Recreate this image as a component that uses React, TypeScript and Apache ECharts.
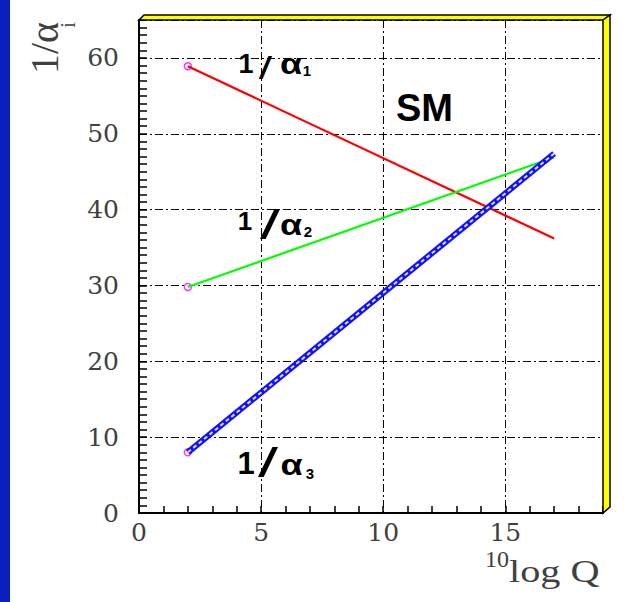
import React, { useEffect, useRef } from "react";
import * as echarts from "echarts";

// ---- data ----
const X_ENDPOINTS = [2, 17]; // 10log Q at the two ends of each running coupling
const INV_ALPHA_1 = [58.9, 36.2];
const INV_ALPHA_2 = [29.8, 46.9];
const INV_ALPHA_3 = [8.0, 47.4];
const X_RANGE = [0, 19];
const Y_RANGE = [0, 65];
const X_MAJOR = 5;
const Y_MAJOR = 10;
const MINOR_STEP = 1;
const CURVE_SUBSCRIPTS = ["1", "2", "3"];
const MODEL_LABEL = "SM";

const TICK_FONT = "DejaVu Serif";
const TITLE_FONT = "Liberation Serif";
const LABEL_FONT = "Liberation Sans";
const AXIS_TEXT = "#404040";

function pairs(ys: number[]) {
  return X_ENDPOINTS.map((x, i) => [x, ys[i]]);
}

function txt(
  text: string,
  x: number,
  y: number,
  size: number,
  opts: { weight?: string; family?: string; align?: string; color?: string; scaleX?: number; scaleY?: number; rotation?: number } = {}
) {
  const align = opts.align || "center";
  return {
    type: "text",
    x,
    y,
    rotation: opts.rotation || 0,
    scaleX: opts.scaleX || 1,
    scaleY: opts.scaleY || 1,
    z: 100,
    style: {
      text,
      fontSize: size,
      fontFamily: opts.family || LABEL_FONT,
      fontWeight: opts.weight || "normal",
      fill: opts.color || "#000",
      align,
      textAlign: align,
      verticalAlign: "middle",
      textVerticalAlign: "middle",
    },
  };
}

type LabelPos = {
  one: [number, number, number];
  slash: [number, number, number, number];
  alpha: [number, number];
  sub: [number, number];
};

function alphaLabel(sub: string, p: LabelPos) {
  return [
    txt("1", p.one[0], p.one[1], p.one[2], { weight: "bold" }),
    txt("/", p.slash[0], p.slash[1], p.slash[2], { scaleX: p.slash[3] }),
    txt("α", p.alpha[0], p.alpha[1], 30, { weight: "bold", scaleX: 1.2 }),
    txt(sub, p.sub[0], p.sub[1], 15, { weight: "bold" }),
  ];
}

export default function App() {
  const ref = useRef<HTMLDivElement>(null);

  useEffect(() => {
    document.body.style.margin = "0";
    const chart = echarts.init(ref.current!, null, { renderer: "svg" });

    const grid = { left: 139, top: 20, width: 464, height: 493 };

    const gridLine = { color: "#000", width: 1, type: [8, 3, 2, 3] as any };

    const option: any = {
      animation: false,
      backgroundColor: "#fff",
      grid: { ...grid, containLabel: false },
      xAxis: [
        {
          type: "value",
          min: X_RANGE[0],
          max: X_RANGE[1],
          interval: MINOR_STEP,
          position: "bottom",
          axisLine: { show: true, onZero: false, lineStyle: { color: "#000", width: 2 } },
          axisTick: { show: true, inside: true, length: 7, lineStyle: { color: "#000", width: 1.5 } },
          axisLabel: { show: false },
          splitLine: { show: false },
        },
        {
          type: "value",
          min: X_RANGE[0],
          max: X_RANGE[1],
          interval: X_MAJOR,
          position: "bottom",
          axisLine: { show: false, onZero: false },
          axisTick: { show: false },
          axisLabel: {
            show: true,
            margin: 7,
            fontFamily: TICK_FONT,
            fontSize: 25,
            color: AXIS_TEXT,
            showMaxLabel: false,
            formatter: (v: number) => (v % X_MAJOR === 0 ? String(v) : ""),
          },
          splitLine: { show: true, lineStyle: gridLine },
        },
      ],
      yAxis: [
        {
          type: "value",
          min: Y_RANGE[0],
          max: Y_RANGE[1],
          interval: MINOR_STEP,
          position: "left",
          axisLine: { show: true, onZero: false, lineStyle: { color: "#000", width: 2 } },
          axisTick: { show: true, inside: true, length: 8, lineStyle: { color: "#000", width: 1.5 } },
          axisLabel: { show: false },
          splitLine: { show: false },
        },
        {
          type: "value",
          min: Y_RANGE[0],
          max: Y_RANGE[1],
          interval: Y_MAJOR,
          position: "left",
          axisLine: { show: false, onZero: false },
          axisTick: { show: false },
          axisLabel: {
            show: true,
            margin: 20,
            fontFamily: TICK_FONT,
            fontSize: 25,
            color: AXIS_TEXT,
            showMaxLabel: false,
            formatter: (v: number) => (v % Y_MAJOR === 0 ? String(v) : ""),
          },
          splitLine: { show: true, lineStyle: gridLine },
        },
      ],
      series: [
        {
          name: "1/α1",
          type: "line",
          xAxisIndex: 0,
          yAxisIndex: 0,
          data: pairs(INV_ALPHA_1),
          symbol: "none",
          lineStyle: { color: "#ff0000", width: 2.2 },
        },
        {
          name: "1/α2",
          type: "line",
          xAxisIndex: 0,
          yAxisIndex: 0,
          data: pairs(INV_ALPHA_2),
          symbol: "none",
          lineStyle: { color: "#00ff00", width: 2.2 },
        },
        {
          name: "start",
          type: "scatter",
          xAxisIndex: 0,
          yAxisIndex: 0,
          data: [INV_ALPHA_1, INV_ALPHA_2, INV_ALPHA_3].map((s) => [X_ENDPOINTS[0], s[0]]),
          symbol: "circle",
          symbolSize: 7,
          itemStyle: { color: "#ffffff", borderColor: "#ff00ff", borderWidth: 1.5 },
        },
        {
          name: "1/α3",
          type: "line",
          xAxisIndex: 0,
          yAxisIndex: 0,
          data: pairs(INV_ALPHA_3),
          symbol: "none",
          lineStyle: { color: "#1010ff", width: 6 },
        },
        {
          name: "1/α3 band",
          type: "line",
          xAxisIndex: 0,
          yAxisIndex: 0,
          data: pairs(INV_ALPHA_3),
          symbol: "none",
          lineStyle: { color: "#d8dcff", width: 2, type: [4, 3] },
        },
      ],
      graphic: [
        { type: "rect", shape: { x: 0, y: 0, width: 10, height: 602 }, style: { fill: "#0a20bd" }, z: 100 },
        {
          type: "polygon",
          shape: { points: [[139, 20], [144, 15], [610, 15], [603, 20]] },
          style: { fill: "#ffff00", stroke: "#000", lineWidth: 1.5 },
          z: 100,
        },
        {
          type: "polygon",
          shape: { points: [[603, 20], [610, 15], [610, 507], [603, 513]] },
          style: { fill: "#ffff00", stroke: "#000", lineWidth: 1.5 },
          z: 100,
        },
        ...alphaLabel(CURVE_SUBSCRIPTS[0], {
          one: [246, 63.5, 27],
          slash: [265.5, 68.5, 32, 1.5],
          alpha: [291, 64],
          sub: [307, 70],
        }),
        ...alphaLabel(CURVE_SUBSCRIPTS[1], {
          one: [245, 221, 26],
          slash: [270, 225, 40, 1.8],
          alpha: [291, 225],
          sub: [308, 231],
        }),
        ...alphaLabel(CURVE_SUBSCRIPTS[2], {
          one: [246, 463, 31],
          slash: [268, 462.5, 40, 1.8],
          alpha: [291.5, 465],
          sub: [310, 473],
        }),
        txt(MODEL_LABEL, 424.5, 108, 38, { weight: "bold" }),
        // y-axis title 1/α_i
        txt("1/α", 44.5, 48, 40, { family: TITLE_FONT, color: AXIS_TEXT, rotation: Math.PI / 2 }),
        txt("i", 68, 25, 20, { family: TITLE_FONT, color: AXIS_TEXT, rotation: Math.PI / 2 }),
        // x-axis title 10log Q
        txt("10", 485, 558.5, 24, { family: TITLE_FONT, color: AXIS_TEXT, align: "left" }),
        txt("log Q", 509, 572, 31, { family: TITLE_FONT, color: AXIS_TEXT, align: "left", scaleX: 1.3 }),
      ],
    };

    chart.setOption(option);
    return () => chart.dispose();
  }, []);

  return <div ref={ref} style={{ width: 625, height: 602, background: "#fff" }} />;
}
